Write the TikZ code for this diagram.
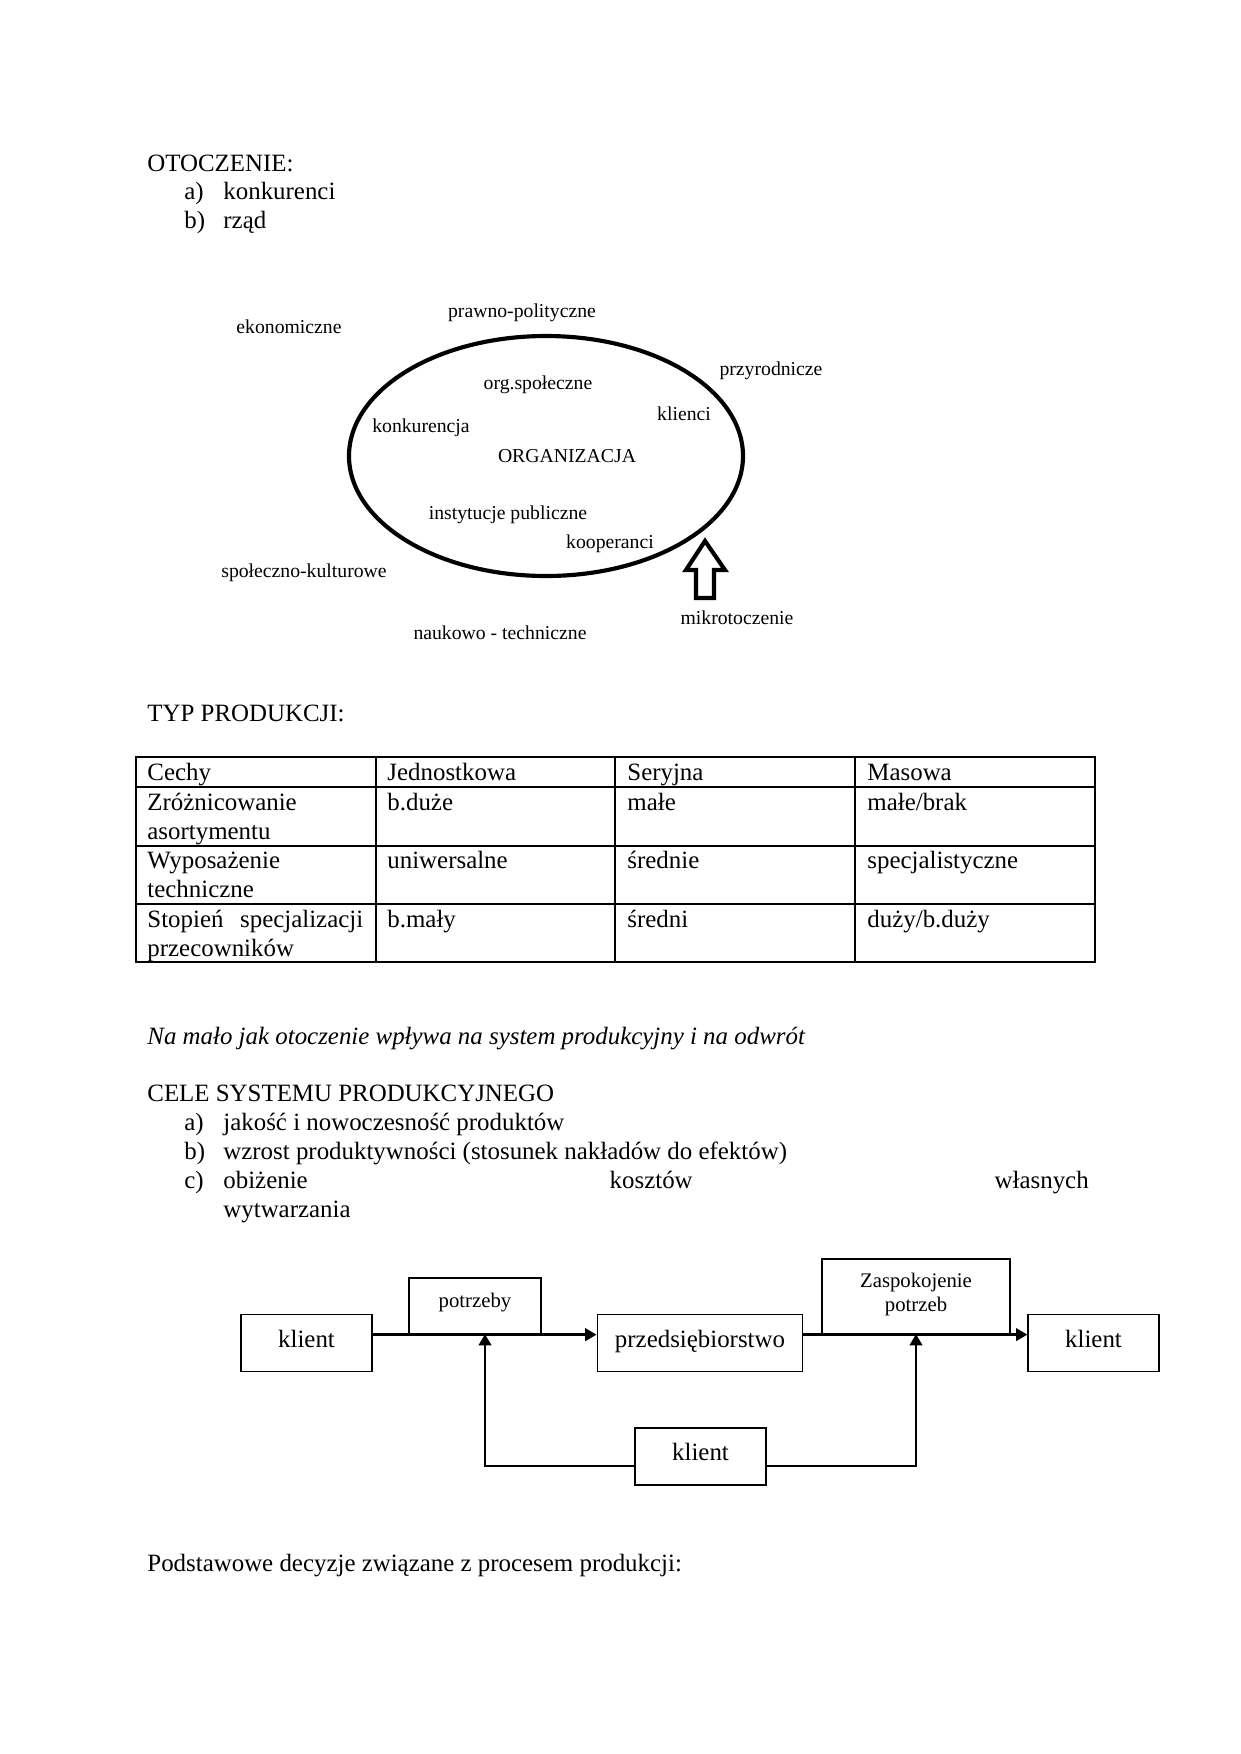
\documentclass[tikz,border=0pt]{standalone}
\usepackage{fontspec}
\setmainfont{Liberation Serif}
\usetikzlibrary{arrows.meta}

\begin{document}
\begin{tikzpicture}[
    x=0.016933cm, y=-0.016933cm,
    txt/.style={anchor=base west, inner sep=0pt, font=\fontsize{12}{14}\selectfont},
    env/.style={inner sep=0pt, font=\fontsize{9.5}{11}\selectfont},
    cell/.style={txt, text width=104pt, align=left},
    box/.style={draw, line width=0.7pt, inner sep=0pt, minimum width=63pt, minimum height=27.4pt,
                text height=8pt, text depth=4pt, font=\fontsize{12}{14}\selectfont},
    small/.style={box, font=\fontsize{10}{11.5}\selectfont},
    flow/.style={line width=1.3pt, -{Triangle[length=5.5pt, width=6pt]}},
    rule/.style={line width=0.8pt}
  ]

  % Page
  \fill[white] (0,0) rectangle (1240,1754);

  % Header
  \node[txt] (envHead) at (147,171) {OTOCZENIE:};
  \node[txt] (envA) at (184,199) {a)};
  \node[txt] (envAtxt) at (223,199) {konkurenci};
  \node[txt] (envB) at (184,228) {b)};
  \node[txt] (envBtxt) at (223,228) {rząd};

  % Organisation and its surroundings
  \draw[line width=2pt] (546,456) ellipse [x radius=197, y radius=120];
  \node[env] (legal) at (522,313) {prawno-polityczne};
  \node[env] (econ) at (289,327) {ekonomiczne};
  \node[env] (nature) at (771,371) {przyrodnicze};
  \node[env] (social) at (538,385) {org.społeczne};
  \node[env] (clients) at (684,414) {klienci};
  \node[env] (rivals) at (421,428) {konkurencja};
  \node[env] (org) at (567,456) {ORGANIZACJA};
  \node[env] (public) at (508,515) {instytucje publiczne};
  \node[env] (partners) at (610,544) {kooperanci};
  \node[env] (culture) at (304,573) {społeczno-kulturowe};
  \node[env] (micro) at (737,618) {mikrotoczenie};
  \node[env] (tech) at (500,633) {naukowo - techniczne};

  % Hollow arrow
  \draw[line width=2pt] (705,541) -- (725,570) -- (714,570) -- (714,598)
    -- (696,598) -- (696,570) -- (686,570) -- cycle;

  % Production types
  \node[txt] (typHead) at (147,721) {TYP PRODUKCJI:};
  \draw[rule] (136,757) rectangle (1095,962);
  \foreach \x in {376,615,855} \draw[rule] (\x,757) -- (\x,962);
  \foreach \y in {787,846,904} \draw[rule] (136,\y) -- (1095,\y);
  \foreach \x/\y/\t in {147/780/Cechy, 387/780/Jednostkowa, 627/780/Seryjna, 867/780/Masowa,
      147/810/{Zróżnicowanie\\asortymentu}, 387/810/b.duże, 627/810/małe, 867/810/{małe/brak},
      147/868/{Wyposażenie\\techniczne}, 387/868/uniwersalne, 627/868/średnie, 867/868/specjalistyczne,
      147/927/{Stopień\hfill specjalizacji\\przecowników}, 387/927/b.mały, 627/927/średni, 867/927/{duży/b.duży}} {
      \node[cell] (cell-\x-\y) at (\x,\y) {\t};
    }

  % Goals
  \node[txt, font=\fontsize{12}{14}\selectfont\itshape] (note) at (147,1044)
    {Na mało jak otoczenie wpływa na system produkcyjny i na odwrót};
  \node[txt] (goalHead) at (147,1101) {CELE SYSTEMU PRODUKCYJNEGO};
  \node[txt] (goalA) at (184,1130) {a)};
  \node[txt] (goalAtxt) at (223,1130) {jakość i nowoczesność produktów};
  \node[txt] (goalB) at (184,1159) {b)};
  \node[txt] (goalBtxt) at (223,1159) {wzrost produktywności (stosunek nakładów do efektów)};
  \node[txt] (goalC) at (184,1188) {c)};
  \node[txt, text width=417pt, align=left] (goalCtxt) at (223,1188)
    {obiżenie\hfill kosztów\hfill własnych\\wytwarzania};

  % Client loop
  \node[box] (clientA) at (306.5,1343) {klient};
  \node[small, minimum width=63.4pt, minimum height=26.9pt, text height=7pt, text depth=6pt]
    (needs) at (475,1306) {potrzeby};
  \node[box, minimum width=99pt] (firm) at (700,1343) {przedsiębiorstwo};
  \node[small, minimum width=90.5pt, minimum height=36pt, align=center, text height=18.5pt, text depth=4.5pt]
    (satisfy) at (916,1296.5) {Zaspokojenie\\potrzeb};
  \node[box] (clientB) at (1093.5,1343) {klient};
  \node[box] (clientC) at (700.5,1456.5) {klient};

  \coordinate (loopL) at (485,1334);
  \coordinate (loopR) at (916,1334);
  \coordinate (loopY) at (0,1466);

  \draw[flow] (clientA.east |- needs.south) -- (firm.west |- needs.south);
  \draw[flow] (firm.east |- satisfy.south) -- (clientB.west |- satisfy.south);
  \draw[flow] (clientC.west |- loopY) -| (loopL);
  \draw[flow] (clientC.east |- loopY) -| (loopR);

  % Footer
  \node[txt] (decisions) at (147,1571) {Podstawowe decyzje związane z procesem produkcji:};

\end{tikzpicture}
\end{document}
